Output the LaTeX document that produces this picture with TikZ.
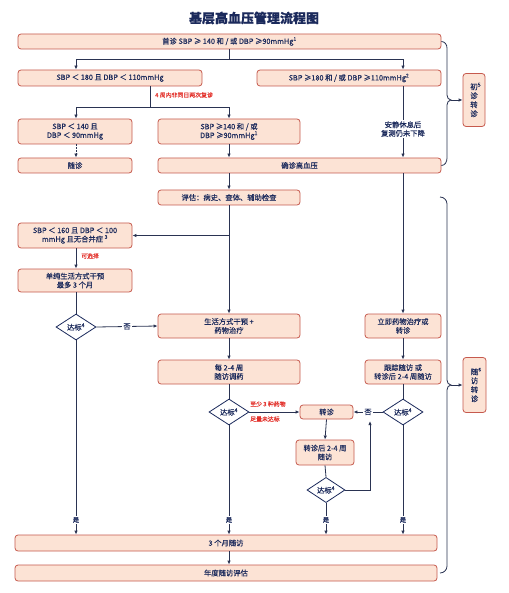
\documentclass[tikz,border=0pt]{standalone}
\usepackage{fontspec}
\setmainfont{Noto Sans CJK SC}[FakeBold=0.35]
\usetikzlibrary{arrows.meta,shapes.geometric,calc}
\definecolor{bfill}{HTML}{FCE3D5}
\definecolor{bdraw}{HTML}{C65A4E}
\definecolor{navy}{HTML}{1B2A5C}
\definecolor{lnc}{HTML}{2A3352}
\definecolor{redl}{HTML}{E3302A}
\tikzset{
  box/.style={draw=bdraw, fill=bfill, rounded corners=3pt, line width=0.8pt, inner sep=0pt, align=center, text=navy, font=\fontsize{7.3}{8.8}\selectfont},
  dia/.style={diamond, draw=navy, fill=white, line width=0.8pt, inner sep=0pt, minimum width=40pt, minimum height=26pt, text=navy, font=\fontsize{7.3}{8}\selectfont},
  ln/.style={draw=lnc, line width=0.8pt},
  arr/.style={ln, -{Latex[length=4pt,width=3.4pt]}},
  redlab/.style={text=redl, font=\fontsize{5.9}{6.5}\selectfont, inner sep=1pt},
  plain/.style={text=navy, font=\fontsize{7.3}{8.6}\selectfont, align=center, inner sep=1pt},
  yeslab/.style={text=navy, fill=white, font=\fontsize{6.3}{7}\selectfont, inner sep=1pt},
  nolab/.style={text=navy, fill=white, font=\fontsize{7.3}{8}\selectfont, inner sep=1.5pt},
}
\begin{document}
\begin{tikzpicture}[x=1pt,y=-1pt]
\useasboundingbox (0,0) rectangle (508,593);
\fill[white] (0,0) rectangle (508,593);
\coordinate (colL) at (76,0);
\coordinate (colM) at (229,0);
\coordinate (colR) at (403,0);

\node[text=navy, font=\fontsize{13}{15}\selectfont\bfseries] (title) at (254,18) {基层高血压管理流程图};

\node[box, minimum width=423pt, minimum height=15pt] (top) at (229.5,41.5) {首诊 SBP ≥ 140 和 / 或 DBP ≥90mmHg\textsuperscript{1}};
\node[box, minimum width=184pt, minimum height=16pt] (b2l) at (110,78) {SBP ＜ 180 且 DBP ＜ 110mmHg};
\node[box, minimum width=184pt, minimum height=16pt] (b2r) at (349,78) {SBP ≥180 和 / 或 DBP ≥110mmHg\textsuperscript{2}};
\node[box, minimum width=114pt, minimum height=25pt] (b3a) at (75,131.5) {SBP ＜ 140 且\\DBP ＜ 90mmHg};
\node[box, minimum width=142pt, minimum height=25pt] (b3b) at (229,131.5) {SBP ≥140 和 / 或\\DBP ≥90mmHg\textsuperscript{1}};
\node[plain] (rest) at (403,129) {安静休息后\\复测仍未下降};
\node[box, minimum width=114pt, minimum height=15pt] (follow) at (75,165.5) {随诊};
\node[box, minimum width=283pt, minimum height=15pt] (confirm) at (299.5,165.5) {确诊高血压};
\node[box, minimum width=142pt, minimum height=15pt] (assess) at (229,197.5) {评估：病史、查体、辅助检查};
\node[box, minimum width=114pt, minimum height=25pt] (b160) at (75,235.5) {SBP ＜ 160 且 DBP ＜ 100\\mmHg 且无合并症 \textsuperscript{3}};
\node[box, minimum width=114pt, minimum height=23pt] (life) at (75,280.5) {单纯生活方式干预\\最多 3 个月};
\node[dia] (d1) at (76,327) {达标\textsuperscript{4}};
\node[box, minimum width=142pt, minimum height=24pt] (drug) at (229,326) {生活方式干预 +\\药物治疗};
\node[box, minimum width=142pt, minimum height=24pt] (adj) at (229,372) {每 2-4 周\\随访调药};
\node[dia] (d2) at (229,412) {达标\textsuperscript{4}};
\node[box, minimum width=53pt, minimum height=14pt] (refer) at (326.5,412) {转诊};
\node[box, minimum width=76pt, minimum height=24pt] (imm) at (403,326) {立即药物治疗或\\转诊};
\node[box, minimum width=76pt, minimum height=24pt] (track) at (403,372) {跟踪随访 或\\转诊后 2-4 周随访};
\node[dia] (d3) at (403,412) {达标\textsuperscript{4}};
\node[box, minimum width=58pt, minimum height=25pt] (ref2) at (325,452.5) {转诊后 2-4 周\\随访};
\node[dia, minimum width=38pt, minimum height=25pt] (d4) at (326,490) {达标\textsuperscript{4}};
\node[box, minimum width=422pt, minimum height=16pt] (m3) at (226,543) {3 个月随访};
\node[box, minimum width=422pt, minimum height=16pt] (annual) at (226,573) {年度随访评估};
\node[box, minimum width=22pt, minimum height=53pt, font=\fontsize{7.5}{9}\selectfont] (side1) at (474,100) {初\rlap{\textsuperscript{5}}\\诊\\转\\诊};
\node[box, minimum width=23pt, minimum height=55pt, font=\fontsize{7.5}{9}\selectfont] (side2) at (474.5,385) {随\rlap{\textsuperscript{6}}\\访\\转\\诊};

% top split
\coordinate (j1) at (229,59);
\draw[ln] (top.south -| colM) -- (j1);
\draw[arr] (j1) -| (b2l.north -| colL);
\draw[arr] (j1) -| (b2r.north -| colR);
% second split
\coordinate (j2) at (150,107);
\draw[ln] (b2l.south -| j2) -- (j2);
\node[redlab, anchor=west] (l4w) at (154,95) {4 周内非同日两次复诊};
\draw[arr] (j2) -| (b3a.north -| colL);
\draw[arr] (j2) -| (b3b.north);
% right column
\draw[ln] (b2r.south -| colR) -- (rest.north);
\draw[arr] (rest.south) -- (confirm.north -| colR);
\draw[arr, dash pattern=on 1.6pt off 1.4pt] (b3a.south -| colL) -- (follow.north -| colL);
\draw[arr] (b3b.south) -- (confirm.north -| colM);
\draw[arr] (confirm.south -| colM) -- (assess.north);
\draw[arr] (confirm.south -| colR) -- (imm.north);
\draw[arr] (assess.south) -- (drug.north);
\coordinate (j3) at (229,235.5);
\draw[arr] (j3) -- (b160.east);
\draw[arr] (b160.south -| colL) -- (life.north -| colL);
\node[redlab, anchor=west] (opt) at (80,256) {可选择};
\draw[ln] (life.south -| colL) -- (d1.north);
\draw[arr] (d1.east) -- node[nolab] {否} (drug.west);
\draw[arr] (drug.south) -- (adj.north);
\draw[ln] (adj.south) -- (d2.north);
\draw[arr] (d2.east) -- (refer.west);
\node[redlab, anchor=west] (r1) at (249,404) {至少 3 种药物};
\node[redlab, anchor=west] (r2) at (249,419) {足量未达标};
\draw[arr] (imm.south) -- (track.north);
\draw[ln] (track.south) -- (d3.north);
\draw[arr] (d3.west) -- node[nolab] {否} (refer.east);
\draw[arr] (refer.south) -- (ref2.north);
\draw[ln] (ref2.south) -- (d4.north);
\coordinate (j5) at (370,421);
\draw[arr] (d4.east) -| (j5);
% yes arrows
\draw[arr] (d1.south) -- (m3.north -| colL);
\draw[arr] (d2.south) -- (m3.north -| colM);
\draw[arr] (d4.south) -- (m3.north -| d4);
\draw[arr] (d3.south) -- (m3.north -| colR);
\node[yeslab] (y1) at (76,520) {是};
\node[yeslab] (y2) at (229,520) {是};
\node[yeslab] (y3) at (326,520) {是};
\node[yeslab] (y4) at (403,520) {是};
\draw[arr] (m3.south -| colM) -- (annual.north -| colM);
% braces
\coordinate (p1) at (451,100);
\draw[ln] (top.east) to[out=0,in=90] (447,48) -- (447,95) to[out=-90,in=180] (p1) to[out=180,in=90] (447,105) -- (447,158) to[out=-90,in=0] (confirm.east);
\draw[arr] (p1) -- (side1.west);
\coordinate (q0) at (440,197);
\coordinate (q2) at (440,573);
\coordinate (p2) at (451,385);
\draw[ln] (q0) to[out=0,in=90] (447,204) -- (447,380) to[out=-90,in=180] (p2) to[out=180,in=90] (447,390) -- (447,566) to[out=-90,in=0] (q2);
\draw[arr] (p2) -- (side2.west);
\end{tikzpicture}
\end{document}
